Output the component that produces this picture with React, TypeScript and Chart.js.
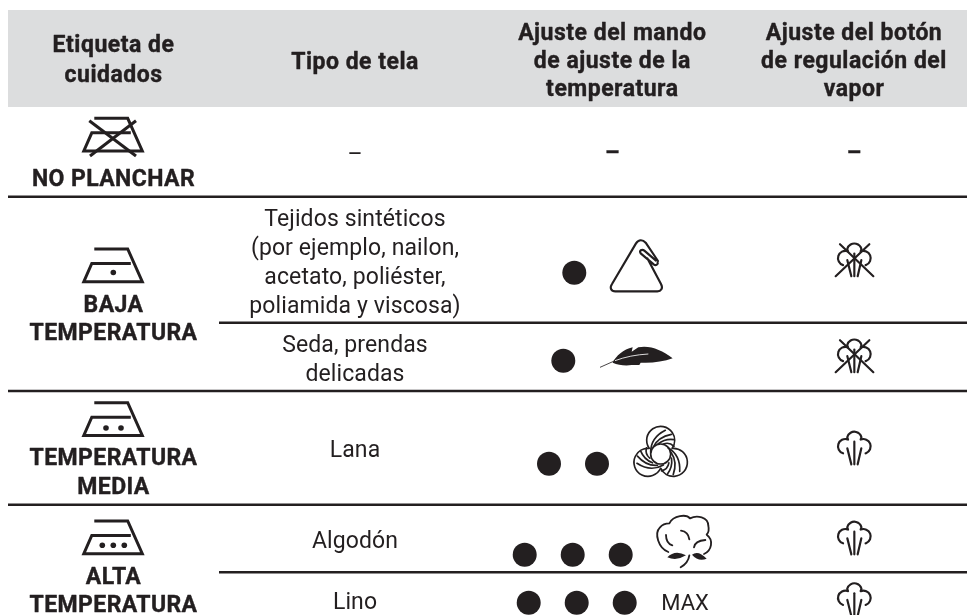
import React, { useEffect, useRef } from "react";
import { Chart, registerables } from "chart.js";

Chart.register(...registerables);

// ---- content
const headerLabels = [
  ["Etiqueta de", "cuidados"],
  ["Tipo de tela"],
  ["Ajuste del mando", "de ajuste de la", "temperatura"],
  ["Ajuste del botón", "de regulación del", "vapor"],
];
const careLabels = [
  ["NO PLANCHAR"],
  ["BAJA", "TEMPERATURA"],
  ["TEMPERATURA", "MEDIA"],
  ["ALTA", "TEMPERATURA"],
];
const ironDotCounts = [0, 1, 2, 3];
const fabricLabels = [
  ["–"],
  ["Tejidos sintéticos", "(por ejemplo, nailon,", "acetato, poliéster,", "poliamida y viscosa)"],
  ["Seda, prendas", "delicadas"],
  ["Lana"],
  ["Algodón"],
  ["Lino"],
];
const temperatureDots = [0, 1, 1, 2, 3, 3];
const temperatureIcons = ["", "triangle", "feather", "wool", "cotton", "MAX"];
const steamMarks = ["–", "nosteam", "nosteam", "steam", "steam", "steam"];

// ---- layout (table coordinates equal page pixels)
const W = 967;
const H = 615;
const colX = [113.5, 355, 612.3, 854];
const headerLineY = [
  [44.3, 74],
  [60.7],
  [31.5, 60.3, 88],
  [31.5, 60.3, 88],
];
const fullRules = [196.7, 391, 504.7];
const partRules = [322.7, 572.3];
const careTextY = [[177.7], [304.3, 331.7], [456.7, 486], [575.7, 604.3]];
const ironTopY = [118.3, 249, 402.7, 521];
const fabricY = [[154], [218, 247, 276.3, 304.7], [344, 373], [448.7], [539.7], [600.7]];
const dotRows = [
  { y: 154, xs: [] as number[] },
  { y: 272.7, xs: [574.3] },
  { y: 360.7, xs: [563.3] },
  { y: 463.7, xs: [549, 597] },
  { y: 554.7, xs: [524.7, 572.7, 620.7] },
  { y: 602.7, xs: [528.7, 576.7, 624.7] },
];
const iconAnchors = [
  { x: 0, y: 0 },
  { x: 530, y: 230 },
  { x: 530, y: 230 },
  { x: 530, y: 400 },
  { x: 530, y: 400 },
  { x: 685, y: 602 },
];
const steamY = [154, 243.5, 339.5, 431.7, 521.7, 583.3];
const INK = "#231f20";
const BAND = "#dcddde";

type Ctx = CanvasRenderingContext2D;

function line(c: Ctx, a: number, b: number, d: number, e: number) {
  c.beginPath();
  c.moveTo(a, b);
  c.lineTo(d, e);
  c.stroke();
}

function drawIron(c: Ctx, cross: boolean) {
  c.lineWidth = 3;
  c.lineJoin = "miter";
  c.beginPath();
  c.moveTo(-19, 0);
  c.lineTo(14.4, 0);
  c.lineTo(29, 32.7);
  c.lineTo(-29.5, 32.7);
  c.lineTo(-21.5, 14.5);
  c.lineTo(17.5, 14.5);
  c.stroke();
  if (cross) {
    line(c, -24, 2.4, 22.7, 37.7);
    line(c, 22.7, 2.4, -23.3, 37.7);
  }
}

// Icons traced in 3x zoom units
function drawTriangle(c: Ctx) {
  c.save();
  c.scale(1 / 3, 1 / 3);
  c.lineWidth = 6.5;
  c.lineJoin = "round";
  c.lineCap = "round";
  c.beginPath();
  c.moveTo(383, 98);
  c.bezierCurveTo(385, 102, 378, 108, 372, 104);
  c.lineTo(332, 70);
  c.bezierCurveTo(326, 62, 336, 56, 343, 62);
  c.lineTo(378, 92);
  c.moveTo(352, 85);
  c.lineTo(393, 162);
  c.bezierCurveTo(400, 175, 393, 184, 382, 184);
  c.lineTo(256, 184);
  c.bezierCurveTo(244, 184, 238, 174, 246, 162);
  c.lineTo(318, 40);
  c.bezierCurveTo(326, 28, 338, 28, 347, 38);
  c.lineTo(384, 93);
  c.stroke();
  c.restore();
}

function drawFeather(c: Ctx) {
  c.save();
  c.scale(1 / 3, 1 / 3);
  c.fillStyle = INK;
  c.beginPath();
  c.moveTo(428, 385);
  c.bezierCurveTo(395, 360, 360, 345, 325, 352);
  c.lineTo(305, 365);
  c.lineTo(308, 352);
  c.bezierCurveTo(280, 358, 258, 378, 248, 398);
  c.bezierCurveTo(265, 405, 285, 408, 305, 405);
  c.lineTo(328, 405);
  c.lineTo(332, 398);
  c.bezierCurveTo(365, 400, 400, 395, 428, 385);
  c.fill();
  c.strokeStyle = INK;
  c.lineWidth = 2.5;
  line(c, 210, 412, 255, 392);
  c.strokeStyle = "#ffffff";
  c.lineWidth = 2.5;
  c.beginPath();
  c.moveTo(255, 392);
  c.quadraticCurveTo(300, 375, 355, 372);
  c.stroke();
  c.restore();
}

function drawWool(c: Ctx) {
  c.save();
  c.scale(1 / 3, 1 / 3);
  c.translate(392, 165);
  c.lineWidth = 5;
  c.lineCap = "round";
  c.beginPath();
  c.arc(0, -3, 30, 0, Math.PI * 2);
  c.stroke();
  for (let k = 0; k < 3; k++) {
    c.save();
    c.rotate((k * 2 * Math.PI) / 3);
    c.beginPath();
    c.arc(0, -44, 42, Math.PI * 0.81, Math.PI * 2.19);
    c.stroke();
    const swirl: number[][] = [
      [-30, -8, -30, -52, 14, -74],
      [-22, -24, -8, -54, 32, -62],
      [-8, -33, 14, -50, 40, -46],
      [8, -33, 26, -40, 40, -26],
    ];
    for (const s of swirl) {
      c.beginPath();
      c.moveTo(s[0], s[1]);
      c.quadraticCurveTo(s[2], s[3], s[4], s[5]);
      c.stroke();
    }
    c.restore();
  }
  c.restore();
}

function drawCotton(c: Ctx) {
  c.save();
  c.scale(1 / 3, 1 / 3);
  c.lineWidth = 5.5;
  c.lineCap = "round";
  c.beginPath();
  c.moveTo(415, 456);
  c.bezierCurveTo(385, 445, 372, 400, 390, 382);
  c.bezierCurveTo(398, 372, 410, 370, 418, 370);
  c.bezierCurveTo(430, 345, 470, 342, 480, 355);
  c.bezierCurveTo(500, 345, 535, 350, 535, 378);
  c.bezierCurveTo(538, 390, 535, 398, 530, 404);
  c.bezierCurveTo(552, 420, 545, 452, 522, 462);
  c.stroke();
  const bits: number[][] = [
    [408, 405, 408, 430, 427, 436],
    [453, 392, 475, 395, 478, 418],
    [492, 442, 495, 422, 526, 420],
  ];
  for (const s of bits) {
    c.beginPath();
    c.moveTo(s[0], s[1]);
    c.quadraticCurveTo(s[2], s[3], s[4], s[5]);
    c.stroke();
  }
  c.fillStyle = INK;
  c.beginPath();
  c.moveTo(412, 472);
  c.quadraticCurveTo(435, 448, 468, 466);
  c.quadraticCurveTo(440, 484, 412, 472);
  c.fill();
  c.beginPath();
  c.moveTo(530, 476);
  c.quadraticCurveTo(505, 450, 486, 464);
  c.quadraticCurveTo(505, 486, 530, 476);
  c.fill();
  c.beginPath();
  c.moveTo(478, 466);
  c.quadraticCurveTo(475, 488, 452, 502);
  c.stroke();
  c.restore();
}

function drawSteam(c: Ctx, cross: boolean) {
  c.save();
  c.scale(1 / 3, 1 / 3);
  c.lineWidth = 6.5;
  c.lineCap = "round";
  c.lineJoin = "round";
  c.beginPath();
  c.arc(-26, 44, 22, Math.PI * 0.6, Math.PI * 1.62);
  c.arc(1, 22, 22, Math.PI * 1.08, Math.PI * 1.92);
  c.arc(28, 44, 22, Math.PI * 1.38, Math.PI * 2.4);
  c.stroke();
  line(c, 1, 30, 1, 98);
  line(c, -20, 50, -8, 98);
  line(c, 22, 50, 11, 98);
  if (cross) {
    line(c, -42, 2, 58, 98);
    line(c, 46, 2, -55, 98);
  }
  c.restore();
}

const tablePlugin = {
  id: "tableText",
  afterDatasetsDraw(chart: any) {
    const c: Ctx = chart.ctx;
    const sx = chart.scales.x;
    const sy = chart.scales.y;
    const px = (v: number) => sx.getPixelForValue(v);
    const py = (v: number) => sy.getPixelForValue(v);
    c.save();
    c.fillStyle = INK;
    c.strokeStyle = INK;
    c.textAlign = "center";
    c.textBaseline = "alphabetic";
    c.lineJoin = "round";

    const put = (t: string, x: number, y: number, font: string, sp: string, heavy: number) => {
      c.font = font;
      (c as any).letterSpacing = sp;
      c.fillText(t, px(x), py(y) + 8);
      if (heavy > 0) {
        c.lineWidth = heavy;
        c.strokeText(t, px(x), py(y) + 8);
      }
    };
    const BOLD = "700 23px Roboto";
    const REG = "400 23px Roboto";

    headerLabels.forEach((lines, i) =>
      lines.forEach((t, j) => put(t, colX[i], headerLineY[i][j], BOLD, "0.5px", 0.4))
    );
    careLabels.forEach((lines, i) =>
      lines.forEach((t, j) => put(t, colX[0], careTextY[i][j], BOLD, "0.4px", 0.4))
    );
    fabricLabels.forEach((lines, i) =>
      lines.forEach((t, j) => put(t, colX[1], fabricY[i][j], REG, "0.1px", 0))
    );

    ironTopY.forEach((y, i) => {
      c.save();
      c.translate(px(colX[0] - 0.2), py(y));
      drawIron(c, i === 0);
      c.restore();
    });

    // bold dashes of the first row
    put("–", colX[2], 152, BOLD, "0px", 0.4);
    put("–", colX[3], 152, BOLD, "0px", 0.4);

    temperatureIcons.forEach((name, i) => {
      const a = iconAnchors[i];
      if (name === "MAX") {
        put(name, a.x, a.y, "400 22px Roboto", "0px", 0);
        return;
      }
      c.save();
      c.translate(px(a.x), py(a.y));
      if (name === "triangle") drawTriangle(c);
      if (name === "feather") drawFeather(c);
      if (name === "wool") drawWool(c);
      if (name === "cotton") drawCotton(c);
      c.restore();
    });

    steamMarks.forEach((m, i) => {
      if (m === "–") return;
      c.save();
      c.translate(px(colX[3]), py(steamY[i]));
      drawSteam(c, m === "nosteam");
      c.restore();
    });
    c.restore();
  },
};

export default function App() {
  const ref = useRef<HTMLCanvasElement | null>(null);
  useEffect(() => {
    if (!ref.current) return;
    document.body.style.margin = "0";
    const dotPoints = dotRows.flatMap((r, i) =>
      r.xs.slice(0, temperatureDots[i]).map((x) => ({ x, y: r.y }))
    );
    const ironDots = ironDotCounts.flatMap((n, i) => {
      const y = ironTopY[i] + 23.5;
      const xs = n === 1 ? [113.3] : n === 2 ? [106, 121] : n === 3 ? [102.3, 113.3, 124.3] : [];
      return xs.map((x) => ({ x, y: y + (i === 3 ? 0.8 : i === 2 ? 1.8 : 0) }));
    });
    const ruleSet = (y: number, from: number) => ({
      type: "line" as const,
      data: [
        { x: from, y },
        { x: W, y },
      ],
      borderColor: INK,
      borderWidth: 2.6,
      pointRadius: 0,
      showLine: true,
    });
    const chart = new Chart(ref.current, {
      type: "scatter",
      data: {
        datasets: [
          {
            data: dotPoints,
            pointRadius: 12,
            pointBackgroundColor: INK,
            pointBorderWidth: 0,
            showLine: false,
          },
          {
            data: ironDots,
            pointRadius: 2.8,
            pointBackgroundColor: INK,
            pointBorderWidth: 0,
            showLine: false,
          },
          ...fullRules.map((y) => ruleSet(y, 8)),
          ...partRules.map((y) => ruleSet(y, 219)),
          {
            data: [
              { x: 8, y: 58.5 },
              { x: W, y: 58.5 },
            ],
            borderColor: BAND,
            borderWidth: 97,
            pointRadius: 0,
            showLine: true,
          },
        ] as any,
      },
      options: {
        animation: false,
        responsive: false,
        maintainAspectRatio: false,
        layout: { padding: 0, autoPadding: false },
        plugins: { legend: { display: false }, tooltip: { enabled: false } },
        scales: {
          x: { type: "linear", min: 0, max: W, display: false },
          y: { type: "linear", min: 0, max: H, reverse: true, display: false },
        },
      },
      plugins: [tablePlugin],
    });
    return () => chart.destroy();
  }, []);
  return (
    <canvas
      ref={ref}
      width={W}
      height={H}
      style={{ position: "absolute", left: 0, top: 0, width: W, height: H, display: "block" }}
    />
  );
}
